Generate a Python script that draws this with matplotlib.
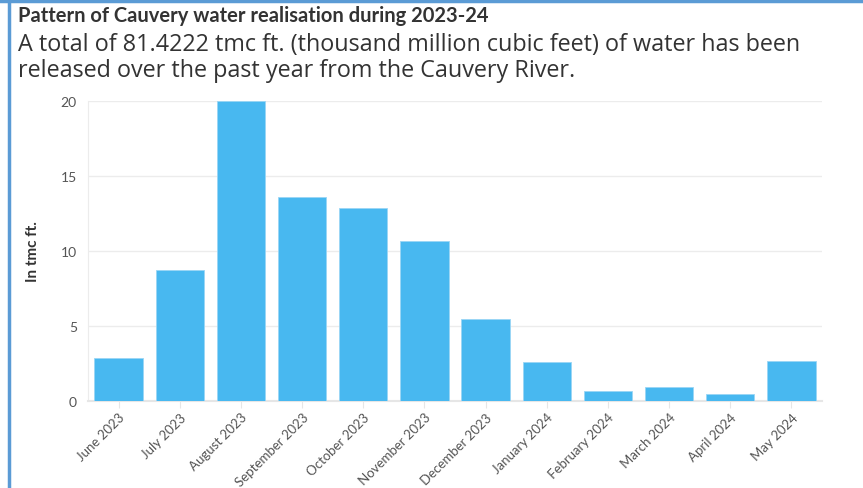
import matplotlib.pyplot as plt
from matplotlib.lines import Line2D

months = ["June 2023", "July 2023", "August 2023", "September 2023",
          "October 2023", "November 2023", "December 2023", "January 2024",
          "February 2024", "March 2024", "April 2024", "May 2024"]
tmc = [2.87, 8.75, 19.98, 13.6, 12.85, 10.67, 5.45, 2.62, 0.67, 0.95, 0.45, 2.67]
yticks = [0, 5, 10, 15, 20]

title = "Pattern of Cauvery water realisation during 2023-24"
subtitle = ("A total of 81.4222 tmc ft. (thousand million cubic feet) of water has been\n"
            "released over the past year from the Cauvery River.")

plt.rcParams["font.family"] = ["Lato", "DejaVu Sans"]

fig = plt.figure(figsize=(8.63, 4.89), dpi=100)
ax = fig.add_axes([88 / 863, 1 - 402 / 489, (822 - 88) / 863, 300 / 489])

ax.bar(range(len(months)), tmc, width=0.79, color="#48B8F0",
       edgecolor="#9ad6f5", linewidth=0.6, zorder=3)
ax.set_xlim(-0.5, len(months) - 0.5)
ax.set_ylim(0, 20)
ax.set_yticks(yticks)
ax.set_xticks(range(len(months)))
ax.set_xticklabels(months, rotation=45, ha="right", rotation_mode="anchor")
ax.tick_params(axis="x", length=5, color="#e6e6e6", labelsize=9.5,
               labelcolor="#555555", pad=2)
ax.tick_params(axis="y", length=0, labelsize=10, labelcolor="#555555", pad=8)
ax.grid(axis="y", color="#ececec", linewidth=1, zorder=0)
for side in ["top", "right"]:
    ax.spines[side].set_visible(False)
ax.spines["left"].set_color("#ececec")
ax.spines["bottom"].set_color("#e6e6e6")
ax.spines["bottom"].set_linewidth(1.5)
ax.set_ylabel("In tmc ft.", fontsize=11, fontweight="bold", color="#333333")
ax.yaxis.set_label_coords((40 - 88) / 734, 0.5)

fig.text(18 / 863, 1 - 6 / 489, title, fontsize=14.5, fontweight="bold",
         color="#333333", va="top")
fig.text(18 / 863, 1 - 33 / 489, subtitle, fontsize=16.8, color="#333333",
         va="top", linespacing=1.1, family=["Open Sans", "Lato"])

# blue frame on top and left edge
fig.add_artist(Line2D([0, 1], [1 - 2 / 489] * 2, color="#5b9bd5", linewidth=2.5))
fig.add_artist(Line2D([9 / 863] * 2, [0, 1], color="#5b9bd5", linewidth=2.5))

fig.savefig("out.png", dpi=100)
